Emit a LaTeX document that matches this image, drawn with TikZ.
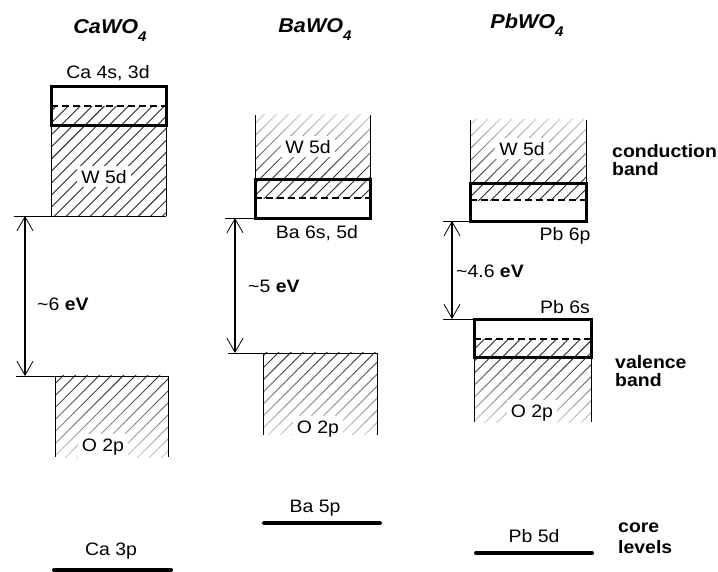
\documentclass[tikz,border=0pt]{standalone}
\usepackage{fontspec}
\setmainfont[FakeStretch=1.08]{Liberation Sans}
\usetikzlibrary{arrows.meta,patterns.meta,fadings}
\tikzfading[name=fadedown, top color=transparent!0, middle color=transparent!15, bottom color=transparent!75]
\tikzfading[name=fadeup, top color=transparent!75, middle color=transparent!15, bottom color=transparent!0]
\newcommand{\lowfour}{\raisebox{-8.5pt}{\fontsize{14}{14}\selectfont 4}}
\begin{document}
\begin{tikzpicture}[x=1pt,y=-1pt,
  lab/.style={font=\fontsize{18}{20}\selectfont, inner sep=0pt, anchor=base},
  wlab/.style={lab, fill=white, inner sep=4pt},
  blab/.style={font=\fontsize{18}{20}\selectfont\bfseries, inner sep=0pt, anchor=base west},
  ttl/.style={font=\fontsize{20}{22}\selectfont\bfseries\itshape, inner sep=0pt, anchor=base},
  hatch/.style={pattern={Lines[angle=45,distance=8.5pt,line width=0.9pt]}, pattern color=black!85},
  thin/.style={line width=1pt},
  band/.style={line width=3pt},
  mid/.style={line width=1.6pt, dash pattern=on 7pt off 4pt},
  core/.style={line width=4pt, line cap=round},
  gap/.style={line width=1.3pt, {Straight Barb[length=14pt,width=16pt,line width=0.8pt]}-{Straight Barb[length=14pt,width=16pt,line width=0.8pt]}}]
\useasboundingbox (0,0) rectangle (718,571);

% ---------------- CaWO4 ----------------
\node[ttl] (tca) at (110,33) {CaWO\lowfour};
\fill[hatch] (51,125) rectangle (166,216);
\fill[hatch] (51,106) rectangle (166,125);
\draw[thin] (51,125) -- (51,216) (166,125) -- (166,216);
\draw[thin] (14,216) -- (166,216);
\draw[mid] (51,106) -- (166,106);
\draw[band] (51,86) rectangle (166,125);
\node[lab] (ca4s) at (108,78) {Ca 4s, 3d};
\node[wlab] (caw) at (104,183) {W 5d};
\fill[hatch, path fading=fadedown] (55,376) rectangle (168,457);
\draw[thin] (16,376) -- (168,376);
\draw[thin] (55,376) -- (55,457) (168,376) -- (168,457);
\node[wlab] (cao) at (103,451) {O 2p};
\coordinate (cacb) at (25,216);
\coordinate (cavb) at (25,376);
\draw[gap] (cacb) -- (cavb);
\node[lab, anchor=base west] (cagap) at (37,310) {\textasciitilde6 \textbf{eV}};
\draw[core] (54,570) -- (171,570);
\node[lab] (ca3p) at (111,555) {Ca 3p};

% ---------------- BaWO4 ----------------
\node[ttl] (tba) at (315,32) {BaWO\lowfour};
\fill[hatch, path fading=fadeup] (255,115) rectangle (370,179);
\draw[thin] (255,115) -- (255,179) (370,115) -- (370,179);
\fill[hatch] (255,179) rectangle (370,198);
\draw[mid] (255,198) -- (370,198);
\draw[thin] (225,218) -- (255,218);
\draw[band] (255,179) rectangle (370,218);
\node[wlab] (baw) at (308,153) {W 5d};
\node[lab] (ba6s) at (317,238) {Ba 6s, 5d};
\fill[hatch, path fading=fadedown] (263,353) rectangle (377,435);
\draw[thin] (228,353) -- (377,353);
\draw[thin] (263,353) -- (263,435) (377,353) -- (377,435);
\node[wlab] (bao) at (318,433) {O 2p};
\coordinate (bacb) at (235,218);
\coordinate (bavb) at (235,353);
\draw[gap] (bacb) -- (bavb);
\node[lab, anchor=base west] (bagap) at (248,292) {\textasciitilde5 \textbf{eV}};
\draw[core] (264,523) -- (380,523);
\node[lab] (ba5p) at (315,512) {Ba 5p};

% ---------------- PbWO4 ----------------
\node[ttl] (tpb) at (527,28) {PbWO\lowfour};
\fill[hatch, path fading=fadeup] (470,120) rectangle (586,183);
\draw[thin] (470,120) -- (470,183) (586,120) -- (586,183);
\fill[hatch] (470,183) rectangle (586,200);
\draw[mid] (470,200) -- (586,200);
\draw[thin] (443,221) -- (470,221);
\draw[band] (470,183) rectangle (586,221);
\node[wlab] (pbw) at (522,155) {W 5d};
\node[lab] (pb6p) at (565,240) {Pb 6p};
\fill[hatch] (474,339) rectangle (591,357);
\draw[mid] (474,339) -- (591,339);
\draw[thin] (443,319) -- (474,319);
\draw[band] (474,319) rectangle (591,357);
\node[lab] (pb6s) at (565,313) {Pb 6s};
\fill[hatch, path fading=fadedown] (474,357) rectangle (591,422);
\draw[thin] (474,357) -- (474,422) (591,357) -- (591,422);
\node[wlab] (pbo) at (532,417) {O 2p};
\coordinate (pbcb) at (452,221);
\coordinate (pbvb) at (452,319);
\draw[gap] (pbcb) -- (pbvb);
\node[lab, anchor=base west] (pbgap) at (456,277) {\textasciitilde4.6 \textbf{eV}};
\draw[core] (476,553) -- (592,553);
\node[lab] (pb5d) at (534,542) {Pb 5d};

% ---------------- side labels ----------------
\node[blab] (cond) at (612,157) {conduction};
\node[blab] (condb) at (612,175) {band};
\node[blab] (val) at (615,368) {valence};
\node[blab] (valb) at (615,386) {band};
\node[blab] (corel) at (618,532) {core};
\node[blab] (corel2) at (618,553) {levels};
\end{tikzpicture}
\end{document}
